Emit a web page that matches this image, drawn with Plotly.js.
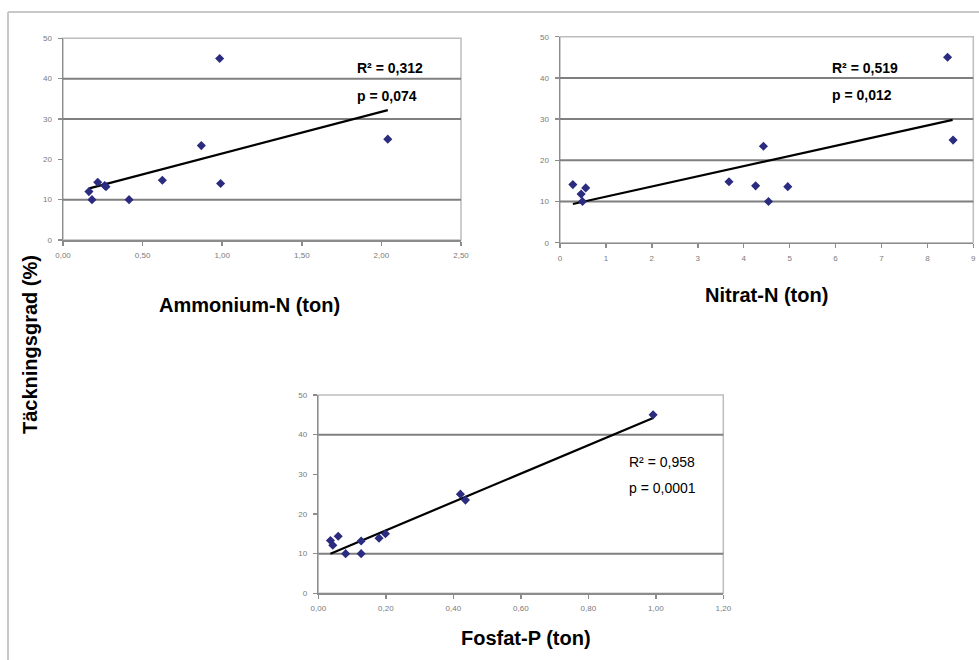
<!DOCTYPE html>
<html>
<head>
<meta charset="utf-8">
<script src="https://cdn.plot.ly/plotly-3.0.1.min.js"></script>
<style>
  html, body { margin: 0; padding: 0; background: #ffffff; }
  #chart { width: 979px; height: 660px; }
</style>
</head>
<body>
<div id="chart"></div>
<script>
// Täckningsgrad (%) against nutrient load (ton) — three scatter panels with linear trend lines.
const coverageTicks = [0, 10, 20, 30, 40, 50];

// Ammonium-N
const ammoniumX = [0.163, 0.182, 0.218, 0.262, 0.270, 0.415, 0.624, 0.869, 0.984, 0.990, 2.04];
const ammoniumY = [12.0, 10.0, 14.3, 13.5, 13.2, 10.0, 14.8, 23.4, 45.0, 14.0, 25.0];
const ammoniumTrendX = [0.165, 2.04];
const ammoniumTrendY = [12.8, 32.2];
const ammoniumTicks = [0, 0.5, 1.0, 1.5, 2.0, 2.5];
const ammoniumGrid = [10, 30, 40];

// Nitrat-N
const nitratX = [0.28, 0.46, 0.49, 0.56, 3.68, 4.26, 4.43, 4.54, 4.96, 8.44, 8.56];
const nitratY = [14.1, 11.8, 10.0, 13.3, 14.8, 13.8, 23.4, 10.0, 13.6, 45.0, 24.9];
const nitratTrendX = [0.28, 8.55];
const nitratTrendY = [9.4, 29.8];
const nitratTicks = [0, 1, 2, 3, 4, 5, 6, 7, 8, 9];
const nitratGrid = [10, 20, 30, 40];

// Fosfat-P
const fosfatX = [0.036, 0.043, 0.059, 0.081, 0.127, 0.127, 0.180, 0.199, 0.421, 0.436, 0.992];
const fosfatY = [13.3, 12.1, 14.4, 10.0, 13.2, 10.0, 13.9, 15.0, 25.0, 23.5, 45.0];
const fosfatTrendX = [0.036, 0.992];
const fosfatTrendY = [10.0, 44.2];
const fosfatTicks = [0, 0.2, 0.4, 0.6, 0.8, 1.0, 1.2];
const fosfatGrid = [10, 40];

// Regression statistics per panel: Ammonium-N, Nitrat-N, Fosfat-P
const statsR2 = ['0,312', '0,519', '0,958'];
const statsP = ['0,074', '0,012', '0,0001'];

const FONT = 'Liberation Sans, Arial, sans-serif';
const markerStyle = { symbol: 'diamond', size: 7, color: '#2b2b7f' };
const trendStyle = { color: '#000000', width: 2.2 };

function pointsTrace(x, y, xa, ya) {
  return { type: 'scatter', mode: 'markers', x: x, y: y, xaxis: xa, yaxis: ya,
           marker: markerStyle, showlegend: false, hoverinfo: 'skip', cliponaxis: false };
}
function trendTrace(x, y, xa, ya) {
  return { type: 'scatter', mode: 'lines', x: x, y: y, xaxis: xa, yaxis: ya,
           line: trendStyle, showlegend: false, hoverinfo: 'skip' };
}

const data = [
  trendTrace(ammoniumTrendX, ammoniumTrendY, 'x', 'y'),
  pointsTrace(ammoniumX, ammoniumY, 'x', 'y'),
  trendTrace(nitratTrendX, nitratTrendY, 'x2', 'y2'),
  pointsTrace(nitratX, nitratY, 'x2', 'y2'),
  trendTrace(fosfatTrendX, fosfatTrendY, 'x3', 'y3'),
  pointsTrace(fosfatX, fosfatY, 'x3', 'y3')
];

const tickFont = { family: FONT, size: 8, color: '#7a7a7a' };

function xAxis(domain, range, ticks, fmt, anchor) {
  return {
    domain: domain, range: range, anchor: anchor,
    tickmode: 'array', tickvals: ticks, tickformat: fmt,
    showgrid: false, zeroline: false,
    showline: true, linecolor: '#8c8c8c', linewidth: 1.5,
    ticks: 'outside', ticklen: 4, tickcolor: '#8c8c8c', tickwidth: 1.5,
    tickfont: tickFont, ticklabelstandoff: 3, fixedrange: true
  };
}
function yAxis(domain, anchor) {
  return {
    domain: domain, range: [0, 50], anchor: anchor,
    tickmode: 'array', tickvals: coverageTicks,
    showgrid: false, zeroline: false,
    showline: true, linecolor: '#8c8c8c', linewidth: 1.5,
    ticks: 'outside', ticklen: 4, tickcolor: '#8c8c8c', tickwidth: 1.5,
    tickfont: tickFont, ticklabelstandoff: 4, fixedrange: true
  };
}

const shapes = [];
// light frame around each plot area (top and right edges show it)
[['x', 'y'], ['x2', 'y2'], ['x3', 'y3']].forEach(function (p) {
  shapes.push({ type: 'rect', xref: p[0] + ' domain', yref: p[1] + ' domain',
                x0: 0, x1: 1, y0: 0, y1: 1, line: { color: '#bdbdbd', width: 1.5 }, layer: 'below' });
});
function gridLines(values, xa, ya, width) {
  values.forEach(function (v) {
    shapes.push({ type: 'line', xref: xa + ' domain', yref: ya, x0: 0, x1: 1, y0: v, y1: v,
                  line: { color: '#7f7f7f', width: width }, layer: 'below' });
  });
}
gridLines(ammoniumGrid, 'x', 'y', 2);
gridLines(nitratGrid, 'x2', 'y2', 2);
gridLines(fosfatGrid, 'x3', 'y3', 2);

// outer figure border (top and left)
shapes.push({ type: 'line', xref: 'paper', yref: 'paper', x0: 8 / 979, x1: 1, y0: 1 - 12 / 660, y1: 1 - 12 / 660,
              line: { color: '#c8c8c8', width: 2 } });
shapes.push({ type: 'line', xref: 'paper', yref: 'paper', x0: 8 / 979, x1: 8 / 979, y0: 0, y1: 1 - 12 / 660,
              line: { color: '#c8c8c8', width: 2 } });

const titleFont = { family: FONT, size: 20, color: '#000000', weight: 'bold' };
const statBold = { family: FONT, size: 14, color: '#000000', weight: 'bold' };
const statRegular = { family: FONT, size: 14, color: '#000000' };

function label(text, x, y, font, xanchor, angle) {
  return { text: text, xref: 'paper', yref: 'paper', x: x, y: y, showarrow: false,
           xanchor: xanchor || 'center', yanchor: 'middle', font: font, textangle: angle || 0 };
}

const annotations = [
  label('Täckningsgrad (%)', 30 / 979, 1 - 345 / 660, titleFont, 'center', -90),
  label('Ammonium-N (ton)', 249 / 979, 1 - 305 / 660, titleFont),
  label('Nitrat-N (ton)', 766 / 979, 1 - 295 / 660, titleFont),
  label('Fosfat-P (ton)', 526 / 979, 1 - 638 / 660, titleFont),
  label('R² = ' + statsR2[0], 355 / 979, 1 - 68 / 660, statBold, 'left'),
  label('p = ' + statsP[0], 355 / 979, 1 - 96 / 660, statBold, 'left'),
  label('R² = ' + statsR2[1], 830 / 979, 1 - 68 / 660, statBold, 'left'),
  label('p = ' + statsP[1], 830 / 979, 1 - 95 / 660, statBold, 'left'),
  label('R² = ' + statsR2[2], 627 / 979, 1 - 462 / 660, statRegular, 'left'),
  label('p = ' + statsP[2], 627 / 979, 1 - 488 / 660, statRegular, 'left')
];

const layout = {
  width: 979, height: 660,
  margin: { l: 0, r: 0, t: 0, b: 0 },
  paper_bgcolor: '#ffffff', plot_bgcolor: 'rgba(0,0,0,0)',
  separators: ', ',
  font: { family: FONT },
  showlegend: false,
  hovermode: false,
  xaxis: xAxis([63 / 979, 461 / 979], [0, 2.5], ammoniumTicks, '.2f', 'y'),
  yaxis: yAxis([1 - 240 / 660, 1 - 38.3 / 660], 'x'),
  xaxis2: xAxis([560 / 979, 973.3 / 979], [0, 9], nitratTicks, 'd', 'y2'),
  yaxis2: yAxis([1 - 242.7 / 660, 1 - 36.7 / 660], 'x2'),
  xaxis3: xAxis([318.3 / 979, 723.3 / 979], [0, 1.2], fosfatTicks, '.2f', 'y3'),
  yaxis3: yAxis([1 - 593.3 / 660, 1 - 395 / 660], 'x3'),
  shapes: shapes,
  annotations: annotations
};

Plotly.newPlot('chart', data, layout, { displayModeBar: false, staticPlot: true });
</script>
</body>
</html>
